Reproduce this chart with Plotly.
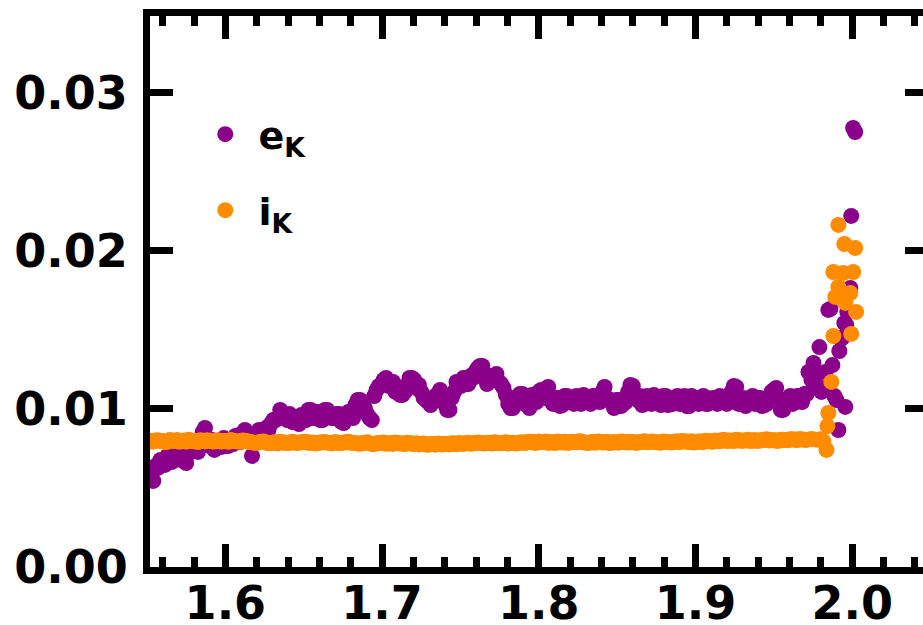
import plotly.graph_objects as go

# ---- data ----
x_grid = [1.551,1.554,1.557,1.560,1.563,1.566,1.569,1.572,1.575,1.578,1.581,1.584,1.587,1.590,1.593,1.596,1.599,1.602,1.605,1.608,
          1.611,1.614,1.617,1.620,1.623,1.626,1.629,1.632,1.635,1.638,1.641,1.644,1.647,1.650,1.653,1.656,1.659,1.662,1.665,1.668,
          1.671,1.674,1.677,1.680,1.683,1.686,1.689,1.692,1.695,1.698,1.701,1.704,1.707,1.710,1.713,1.716,1.719,1.722,1.725,1.728,
          1.731,1.734,1.737,1.740,1.743,1.746,1.749,1.752,1.755,1.758,1.761,1.764,1.767,1.770,1.773,1.776,1.779,1.782,1.785,1.788,
          1.791,1.794,1.797,1.800,1.803,1.806,1.809,1.812,1.815,1.818,1.821,1.824,1.827,1.830,1.833,1.836,1.839,1.842,1.845,1.848,
          1.851,1.854,1.857,1.860,1.863,1.866,1.869,1.872,1.875,1.878,1.881,1.884,1.887,1.890,1.893,1.896,1.899,1.902,1.905,1.908,
          1.911,1.914,1.917,1.920,1.923,1.926,1.929,1.932,1.935,1.938,1.941,1.944,1.947,1.950,1.953,1.956,1.959,1.962,1.965,1.968,
          1.971]

x_mid = [1.5525,1.5555,1.5585,1.5615,1.5645,1.5675,1.5705,1.5735,1.5765,1.5795,1.5825,1.5855,1.5885,1.5915,1.5945,1.5975,1.6005,1.6035,1.6065,1.6095,
         1.6125,1.6155,1.6185,1.6215,1.6245,1.6275,1.6305,1.6335,1.6365,1.6395,1.6425,1.6455,1.6485,1.6515,1.6545,1.6575,1.6605,1.6635,1.6665,1.6695,
         1.6725,1.6755,1.6785,1.6815,1.6845,1.6875,1.6905,1.6935,1.6965,1.6995,1.7025,1.7055,1.7085,1.7115,1.7145,1.7175,1.7205,1.7235,1.7265,1.7295,
         1.7325,1.7355,1.7385,1.7415,1.7445,1.7475,1.7505,1.7535,1.7565,1.7595,1.7625,1.7655,1.7685,1.7715,1.7745,1.7775,1.7805,1.7835,1.7865,1.7895,
         1.7925,1.7955,1.7985,1.8015,1.8045,1.8075,1.8105,1.8135,1.8165,1.8195,1.8225,1.8255,1.8285,1.8315,1.8345,1.8375,1.8405,1.8435,1.8465,1.8495,
         1.8525,1.8555,1.8585,1.8615,1.8645,1.8675,1.8705,1.8735,1.8765,1.8795,1.8825,1.8855,1.8885,1.8915,1.8945,1.8975,1.9005,1.9035,1.9065,1.9095,
         1.9125,1.9155,1.9185,1.9215,1.9245,1.9275,1.9305,1.9335,1.9365,1.9395,1.9425,1.9455,1.9485,1.9515,1.9545,1.9575,1.9605,1.9635,1.9665,1.9695]

e_main = [0.00563,0.00545,0.00627,0.00665,0.00703,0.00665,0.00703,0.00677,0.00658,0.00728,
          0.00753,0.00778,0.00880,0.00766,0.00741,0.00791,0.00816,0.00766,0.00778,0.00829,
          0.00848,0.00804,0.00703,0.00842,0.00829,0.00880,0.00905,0.00930,0.00994,0.00943,
          0.00968,0.00918,0.00905,0.00943,0.00994,0.00943,0.00981,0.00930,0.00994,0.00943,
          0.00968,0.00918,0.00956,0.00981,0.01025,0.01057,0.01006,0.00943,0.01082,0.01146,
          0.01184,0.01146,0.01171,0.01108,0.01089,0.01152,0.01196,0.01133,0.01108,0.01057,
          0.01025,0.01082,0.01120,0.01032,0.00994,0.01108,0.01171,0.01196,0.01158,0.01196,
          0.01259,0.01272,0.01158,0.01209,0.01222,0.01158,0.01089,0.01006,0.01070,0.01095,
          0.01032,0.01006,0.01082,0.01108,0.01070,0.01139,0.01032,0.01070,0.01025,0.01082,
          0.01044,0.01082,0.01032,0.01070,0.01032,0.01082,0.01044,0.01139,0.01057,0.01006,
          0.01057,0.01032,0.01108,0.01146,0.01057,0.01025,0.01082,0.01032,0.01070,0.01025,
          0.01082,0.01032,0.01070,0.01032,0.01082,0.01019,0.01070,0.01032,0.01082,0.01032,
          0.01070,0.01032,0.01070,0.01032,0.01108,0.01139,0.01057,0.01019,0.01070,0.01032,
          0.01070,0.01025,0.01070,0.01120,0.01070,0.00994,0.01057,0.01032,0.01082,0.01044,
          0.01095]

e_mid = [0.00614,0.00639,0.00677,0.00646,0.00690,0.00709,0.00728,0.00684,0.00741,0.00766,
         0.00728,0.00854,0.00791,0.00804,0.00753,0.00760,0.00766,0.00804,0.00829,0.00791,
         0.00867,0.00804,0.00842,0.00867,0.00829,0.00867,0.00930,0.00943,0.00956,0.00930,
         0.00918,0.00943,0.00962,0.00930,0.00994,0.00981,0.00930,0.00994,0.00956,0.00943,
         0.00968,0.00911,0.00981,0.00943,0.01057,0.00994,0.00968,0.00930,0.01120,0.01152,
         0.01196,0.01171,0.01108,0.01089,0.01108,0.01196,0.01184,0.01152,0.01070,0.01044,
         0.01057,0.01089,0.01070,0.00994,0.01070,0.01171,0.01146,0.01158,0.01209,0.01234,
         0.01272,0.01196,0.01209,0.01184,0.01171,0.01133,0.01032,0.01006,0.01044,0.01095,
         0.01070,0.01089,0.01044,0.01120,0.01070,0.01082,0.01070,0.01019,0.01082,0.01044,
         0.01032,0.01070,0.01089,0.01063,0.01082,0.01057,0.01108,0.01070,0.01044,0.01057,
         0.01019,0.01044,0.01152,0.01082,0.01082,0.01032,0.01044,0.01089,0.01070,0.01082,
         0.01025,0.01032,0.01082,0.01070,0.01019,0.01082,0.01070,0.01044,0.01032,0.01063,
         0.01057,0.01082,0.01057,0.01070,0.01146,0.01032,0.01070,0.01044,0.01082,0.01070,
         0.01019,0.01032,0.01108,0.01133,0.00994,0.01057,0.01082,0.01044,0.01082,0.01095]

i_main = [0.00800,0.00795,0.00802,0.00797,0.00792,0.00799,0.00803,0.00796,0.00793,0.00800,
          0.00797,0.00802,0.00795,0.00798,0.00794,0.00800,0.00797,0.00792,0.00799,0.00795,
          0.00801,0.00796,
          0.00790,0.00786,0.00792,0.00787,0.00783,0.00789,0.00793,0.00786,0.00784,0.00790,
          0.00787,0.00792,0.00785,0.00788,0.00784,0.00790,0.00787,0.00782,0.00789,0.00785,
          0.00791,0.00786,
          0.00785,0.00780,0.00787,0.00782,0.00778,0.00784,0.00788,0.00781,0.00779,0.00785,
          0.00782,0.00787,0.00780,0.00783,0.00778,0.00775,0.00779,0.00774,0.00777,0.00780,
          0.00776,0.00781,0.00784,0.00779,0.00786,0.00782,0.00788,0.00783,0.00786,0.00781,
          0.00787,0.00784,0.00789,0.00785,0.00782,0.00788,0.00784,
          0.00792,0.00787,0.00794,0.00789,0.00785,0.00791,0.00795,0.00788,0.00786,0.00792,
          0.00789,0.00794,0.00787,0.00790,0.00786,0.00792,0.00789,0.00784,0.00791,0.00787,
          0.00793,0.00788,0.00791,0.00786,0.00793,0.00789,0.00795,0.00790,0.00787,0.00792,
          0.00788,0.00794,0.00790,0.00796,0.00791,0.00788,0.00794,0.00790,0.00797,0.00793,
          0.00798,0.00803,0.00797,0.00801,0.00805,0.00799,0.00802,0.00797,0.00803,0.00800,
          0.00806,0.00801,0.00804,0.00799,0.00805,0.00802,0.00808,0.00803,0.00807,0.00804]

i_mid = [0.00794,0.00801,0.00797,0.00790,0.00803,0.00798,0.00793,0.00800,0.00805,0.00796,
         0.00791,0.00799,0.00802,0.00795,0.00801,0.00793,0.00798,0.00804,0.00796,0.00792,
         0.00799,
         0.00791,0.00785,0.00789,0.00794,0.00783,0.00788,0.00782,0.00790,0.00786,0.00792,
         0.00784,0.00789,0.00793,0.00786,0.00781,0.00788,0.00791,0.00785,0.00790,0.00783,
         0.00787,0.00792,
         0.00786,0.00781,0.00784,0.00789,0.00779,0.00783,0.00786,0.00780,0.00784,0.00788,
         0.00781,0.00778,0.00784,0.00779,0.00776,0.00781,0.00773,0.00778,0.00781,0.00775,
         0.00779,0.00783,0.00777,0.00782,0.00785,0.00780,0.00784,0.00787,0.00782,0.00785,
         0.00789,0.00783,0.00786,0.00781,0.00787,0.00783,0.00789,
         0.00789,0.00793,0.00786,0.00791,0.00795,0.00788,0.00784,0.00790,0.00793,0.00787,
         0.00791,0.00796,0.00789,0.00785,0.00791,0.00794,0.00788,0.00792,0.00786,0.00790,
         0.00795,0.00789,0.00793,0.00787,0.00791,0.00796,0.00790,0.00793,0.00788,0.00795,
         0.00791,0.00789,0.00794,0.00798,0.00792,0.00796,0.00791,0.00795,0.00799,0.00794,
         0.00801,0.00796,0.00804,0.00800,0.00797,0.00803,0.00799,0.00805,0.00800,0.00797,
         0.00804,0.00808,0.00802,0.00799,0.00806,0.00803,0.00809,0.00805,0.00810,0.00806]

e_tail_x = [1.9721,1.9740,1.9753,1.9766,1.9779,1.9791,1.9804,1.9816,1.9829,1.9848,1.9861,1.9874,1.9886,
            1.9899,1.9912,1.9918,1.9924,1.9937,1.9950,1.9956,1.9962,1.9969,1.9988,1.9994,2.0006,2.0019]
e_tail_y = [0.01234,0.01184,0.01291,0.01209,0.01133,0.01392,0.01108,0.01133,0.01234,0.01627,0.01633,0.01278,0.01082,
            0.01057,0.00867,0.01367,0.01449,0.01449,0.01544,0.01013,0.01532,0.01614,0.01766,0.02222,0.02778,0.02753]

i_tail_x = [1.9740,1.9772,1.9798,1.9816,1.9836,1.9842,1.9848,1.9867,1.9880,1.9892,1.9880,1.9912,1.9912,
            1.9943,1.9950,1.9956,1.9988,1.9994,2.0006,2.0019,2.0025]
i_tail_y = [0.00810,0.00806,0.00809,0.00796,0.00741,0.00892,0.00975,0.01171,0.01462,0.01709,0.01867,0.01772,0.02165,
            0.01861,0.02044,0.01671,0.01734,0.01475,0.01867,0.02019,0.01614]

x_range = [1.5519, 2.0452]
y_range = [0.0, 0.03487]

PURPLE = "#8B008B"
ORANGE = "#FF8C00"
FONT = "DejaVu Sans"
MS = 16

fig = go.Figure()
fig.add_trace(go.Scatter(x=x_grid + x_mid + e_tail_x, y=e_main + e_mid + e_tail_y, mode="markers",
                         name="&nbsp;e<sub>K</sub>", legend="legend",
                         marker=dict(color=PURPLE, size=MS, line=dict(width=0))))
fig.add_trace(go.Scatter(x=x_grid + x_mid + i_tail_x, y=i_main + i_mid + i_tail_y, mode="markers",
                         name="&nbsp;i<sub>K</sub>", legend="legend2",
                         marker=dict(color=ORANGE, size=MS, line=dict(width=0))))
# empty trace to carry the right-hand tick axis
fig.add_trace(go.Scatter(x=[None], y=[None], yaxis="y2", showlegend=False, hoverinfo="skip"))

tickfont = dict(family=FONT, size=46, color="black", weight="bold")
legfont = dict(family=FONT, size=38, color="black", weight="bold")

fig.update_layout(
    width=923, height=625,
    margin=dict(l=150, r=0, t=16, b=58),
    plot_bgcolor="white", paper_bgcolor="white",
    xaxis=dict(range=x_range, automargin=False, showline=True, linecolor="black", linewidth=7, mirror="ticks",
               ticks="inside", ticklen=23, tickwidth=7, tickcolor="black",
               tick0=1.5, dtick=0.1, tickformat=".1f", tickfont=tickfont, ticklabelstandoff=-10,
               showgrid=False, zeroline=False,
               minor=dict(tick0=1.5, dtick=0.02, ticks="inside", ticklen=10, tickwidth=7,
                          tickcolor="black", showgrid=False)),
    yaxis=dict(range=y_range, automargin=False, showline=True, linecolor="black", linewidth=7, mirror=False,
               ticks="inside", ticklen=23, tickwidth=7, tickcolor="black",
               tick0=0, dtick=0.01, tickformat=".2f", tickfont=tickfont, ticklabelstandoff=6,
               showgrid=False, zeroline=False),
    yaxis2=dict(range=y_range, automargin=False, overlaying="y", side="right", showline=False,
                ticks="inside", ticklen=18, tickwidth=7, tickcolor="black",
                tick0=0, dtick=0.01, showticklabels=False, showgrid=False, zeroline=False),
    legend=dict(x=0.0715, y=0.785, xanchor="left", yanchor="middle", font=legfont,
                bgcolor="rgba(0,0,0,0)", itemsizing="trace"),
    legend2=dict(x=0.0715, y=0.647, xanchor="left", yanchor="middle", font=legfont,
                 bgcolor="rgba(0,0,0,0)", itemsizing="trace"),
)

fig.write_html("out.html")
